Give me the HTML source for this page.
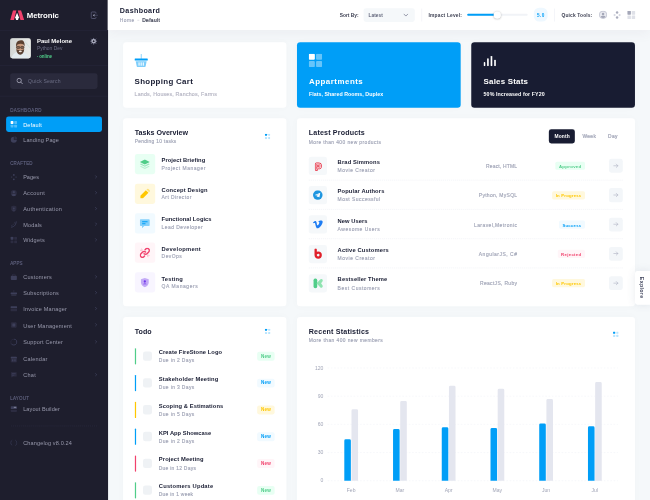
<!DOCTYPE html><html><head><meta charset="utf-8"><title>Metronic</title><style>
*{box-sizing:border-box;margin:0;padding:0}
html,body{width:650px;height:500px;overflow:hidden;background:#f5f8fa}
body{font-family:"Liberation Sans",sans-serif;color:#181c32}
#root{position:absolute;left:0;top:0;width:1600px;height:1231px;transform:scale(0.40625);transform-origin:0 0;background:#f5f8fa;overflow:hidden;filter:opacity(1)}
.abs{position:absolute}
.t{position:absolute;white-space:nowrap;line-height:1;transform:translateY(-50%);margin-top:1px}
.b{font-weight:700}
.aside{position:absolute;left:0;top:0;width:265.500px;height:1231px;background:#1e1e2d}
.sep{position:absolute;left:0;width:265px;height:1px;background:#2b2b40}
.mi{position:absolute;left:15px;width:236px;height:38px;border-radius:6px}
.mi .t{left:42px;top:19.900px;font-size:13.6px;color:#9899ac;font-weight:400}
.mi.act{background:#009ef7}
.mi.act .t{color:#fff}
.mi .ic{position:absolute;left:10px;top:10px;width:18px;height:18px}
.mi .ar{position:absolute;right:10px;top:14px;width:9px;height:9px}
.sec{position:absolute;left:25px;font-size:11px;color:#626482;letter-spacing:1px;font-weight:400;-webkit-text-stroke:.3px currentColor}
.header{position:absolute;left:265px;top:0;width:1335px;height:74px;background:#fff;box-shadow:0 10px 30px 0 rgba(82,63,105,.05)}
.card{position:absolute;background:#fff;border-radius:8px;box-shadow:0 0 20px 0 rgba(76,87,125,.02)}
.mut{color:#a1a5b7}
.md{font-weight:400;-webkit-text-stroke:.35px currentColor}
.sym{position:absolute;border-radius:6px}
.badge{position:absolute;height:20px;border-radius:4px;font-size:10.5px;font-weight:700}
.badge .t{top:10px}
.dash{position:absolute;height:0;border-top:1.600px dashed #e6e9f0}
</style></head><body><div id="root"><div class="aside">
<svg class="abs" style="left:25.400px;top:25.200px;width:34.400px;height:24px" viewBox="0 0 34.400 24"><path d="M7.100 0h8.400L9.400 24H0z" fill="#f1416c"></path><path d="M18.500 0h8.300l7.600 24h-9.100z" fill="#f1416c"></path><path d="M17 6.500l4.500 11L19.200 24h-4.400l-2.300-6.500z" fill="#fff"></path></svg>
<span class="t b" style="left: 65.7px; top: 35.8px; font-size: 19.2px; color: rgb(255, 255, 255); letter-spacing: -0.09px;">Metronic</span>
<svg class="abs" style="left:222px;top:26.700px;width:21px;height:21px" viewBox="0 0 21 21"><path d="M14.300 6.500V4.800a2.300 2.300 0 0 0-2.300-2.300H4.800a2.300 2.300 0 0 0-2.300 2.300v11.400a2.300 2.300 0 0 0 2.300 2.300H12a2.300 2.300 0 0 0 2.300-2.300v-1.700" fill="none" stroke="#5b5d79" stroke-width="2"></path><path d="M6.500 10.500l4.200-3.300v6.600z" fill="#b9bbcf"></path><path d="M10 10.500h9" stroke="#4d4f6b" stroke-width="1.800"></path></svg>
<div class="sep" style="top:74px"></div>
<div class="abs" style="left:25px;top:93.500px;width:50.500px;height:50px;border-radius:6px;overflow:hidden;background:#d9dbd9"><svg viewBox="0 0 50 50" width="50.500" height="50" preserveAspectRatio="none"><defs><linearGradient id="avbg" x1="0" x2="1" y1="0" y2="0"><stop offset="0" stop-color="#d3d6d4"></stop><stop offset="1" stop-color="#e9eae8"></stop></linearGradient></defs><rect width="50" height="50" fill="url(#avbg)"></rect><path d="M36 8L50 26" stroke="#b9d6d2" stroke-width="1.200"></path><path d="M3 50C5 39 13 36 18 33.500L24.600 43 31 33.500c5 2.500 13 5.500 16 16.500z" fill="#e2eaee"></path><ellipse cx="24.600" cy="24" rx="9.600" ry="12" fill="#c8987b"></ellipse><path d="M14.500 22C13 11 18 5.500 26 5c5-1 10 3 9.500 16-1.500-5-4-7.500-10-7.500s-9.500 2.500-11 8.500z" fill="#5b4030"></path><path d="M15 26c1.500 2.500 3.500 3.500 9.600 3.500s8.100-1 9.600-3.500c-.2 9-4 14.500-9.600 14.500S15.200 35 15 26z" fill="#5a4234"></path><ellipse cx="24.800" cy="32.500" rx="3.800" ry="1.900" fill="#efe3dc"></ellipse><rect x="15.500" y="20.500" width="8" height="4.600" rx="1.500" fill="#8a6a58" stroke="#2a211d" stroke-width="1.300"></rect><rect x="25.700" y="20.500" width="8" height="4.600" rx="1.500" fill="#8a6a58" stroke="#2a211d" stroke-width="1.300"></rect></svg></div>
<span class="t b" style="left: 90.8px; top: 101.2px; font-size: 14.6px; color: rgb(255, 255, 255); letter-spacing: 0.14px;">Paul Melone</span>
<span class="t " style="left: 90.8px; top: 118.7px; font-size: 12px; color: rgb(109, 111, 134); letter-spacing: 0.13px;">Python Dev</span>
<span class="t " style="left:90.8px;top:138.6px;font-size:5px;color:#50cd89;">●</span>
<span class="t b" style="left: 96.5px; top: 138.6px; font-size: 11px; color: rgb(80, 205, 137); letter-spacing: -0.16px;">online</span>
<svg class="abs" style="left:221.500px;top:93.300px;width:17px;height:17px" viewBox="0 0 18 18"><circle cx="9" cy="9" r="4.300" fill="none" stroke="#bfc0d1" stroke-width="3.400"></circle><g stroke="#7d7f98" stroke-width="2.300" stroke-linecap="round"><path d="M9 1v2M9 15v2M1 9h2M15 9h2M3.300 3.300l1.500 1.500M13.200 13.200l1.500 1.500M3.300 14.700l1.500-1.500M13.200 4.800l1.500-1.500"></path></g></svg>
<div class="sep" style="top:160px"></div>
<div class="abs" style="left:25px;top:180px;width:215px;height:39px;border-radius:6px;background:#2a2a3c"></div>
<svg class="abs" style="left:39.500px;top:191px;width:17px;height:17px" viewBox="0 0 15 15"><circle cx="6.3" cy="6.3" r="4.7" fill="none" stroke="#b9bacb" stroke-width="1.6"></circle><path d="M10 10l3.4 3.4" stroke="#b9bacb" stroke-width="1.6" stroke-linecap="round"></path></svg>
<span class="t " style="left: 69px; top: 199.5px; font-size: 12.4px; color: rgb(109, 111, 134); letter-spacing: 0.49px;">Quick Search</span>
<div class="sep" style="top:235.500px"></div>
<span class="t sec" style="top: 270.8px; left: 25px; letter-spacing: 0.92px;">DASHBOARD</span>
<div class="mi act" style="top:287.3px"><svg class="ic" viewBox="0 0 18 18"><rect x="1" y="1" width="7" height="7" rx="1.5" fill="#fff"></rect><rect x="10" y="1" width="7" height="7" rx="1.5" fill="#fff" opacity=".32"></rect><rect x="1" y="10" width="7" height="7" rx="1.5" fill="#fff" opacity=".32"></rect><rect x="10" y="10" width="7" height="7" rx="1.5" fill="#fff" opacity=".32"></rect></svg><span class="t" style="letter-spacing: 0.49px;">Default</span></div>
<div class="mi" style="top:325.4px"><svg class="ic" viewBox="0 0 18 18"><path d="M9 1.5a7.5 7.5 0 1 0 7.5 7.5H9z" fill="#3d3f5a"></path><path d="M10.5 0.5a7 7 0 0 1 7 7h-7z" fill="#3d3f5a" opacity=".5"></path></svg><span class="t" style="letter-spacing: 0.37px;">Landing Page</span></div>
<span class="t sec" style="top: 401.5px; left: 25px; letter-spacing: 0.53px;">CRAFTED</span>
<div class="mi" style="top:416.5px"><svg class="ic" viewBox="0 0 18 18"><circle cx="9" cy="3.5" r="2.2" fill="#3d3f5a"></circle><circle cx="9" cy="14.5" r="2.2" fill="#3d3f5a"></circle><circle cx="3.5" cy="9" r="2" fill="#3d3f5a" opacity=".5"></circle><circle cx="14.5" cy="9" r="2" fill="#3d3f5a" opacity=".5"></circle></svg><span class="t" style="letter-spacing: 0.08px;">Pages</span><svg class="ar" viewBox="0 0 9 9"><path d="M3 1.500l3 3-3 3" fill="none" stroke="#494b69" stroke-width="1.500" stroke-linecap="round" stroke-linejoin="round"></path></svg></div>
<div class="mi" style="top:455.9px"><svg class="ic" viewBox="0 0 18 18"><circle cx="9" cy="9" r="7.5" fill="#3d3f5a" opacity=".45"></circle><circle cx="9" cy="7" r="2.8" fill="#3d3f5a"></circle><path d="M3.5 14c1-3 10-3 11 0a7.4 7.4 0 0 1-11 0z" fill="#3d3f5a"></path></svg><span class="t" style="letter-spacing: 0.7px;">Account</span><svg class="ar" viewBox="0 0 9 9"><path d="M3 1.500l3 3-3 3" fill="none" stroke="#494b69" stroke-width="1.500" stroke-linecap="round" stroke-linejoin="round"></path></svg></div>
<div class="mi" style="top:495.3px"><svg class="ic" viewBox="0 0 18 18"><path d="M9 1l6.5 2.5v5.5c0 4-3 7-6.5 8-3.500-1-6.500-4-6.500-8V3.500z" fill="#3d3f5a" opacity=".45"></path><circle cx="9" cy="8" r="2.300" fill="#3d3f5a"></circle><path d="M5.500 13c.5-2.500 6.500-2.500 7 0" fill="#3d3f5a"></path></svg><span class="t" style="letter-spacing: 0.69px;">Authentication</span><svg class="ar" viewBox="0 0 9 9"><path d="M3 1.500l3 3-3 3" fill="none" stroke="#494b69" stroke-width="1.500" stroke-linecap="round" stroke-linejoin="round"></path></svg></div>
<div class="mi" style="top:533.4px"><svg class="ic" viewBox="0 0 18 18"><path d="M2 16c6 0 12-3 13-14" fill="none" stroke="#3d3f5a" stroke-width="2.2"></path><path d="M2 12c4 0 8-2 9-9" fill="none" stroke="#3d3f5a" stroke-width="2" opacity=".5"></path></svg><span class="t" style="letter-spacing: 0.45px;">Modals</span><svg class="ar" viewBox="0 0 9 9"><path d="M3 1.500l3 3-3 3" fill="none" stroke="#494b69" stroke-width="1.500" stroke-linecap="round" stroke-linejoin="round"></path></svg></div>
<div class="mi" style="top:571.6px"><svg class="ic" viewBox="0 0 18 18"><rect x="1" y="1" width="7" height="7" rx="1.5" fill="#3d3f5a"></rect><rect x="10" y="1" width="7" height="7" rx="1.5" fill="#3d3f5a" opacity=".45"></rect><rect x="1" y="10" width="7" height="7" rx="1.5" fill="#3d3f5a" opacity=".45"></rect><rect x="10" y="10" width="7" height="7" rx="1.5" fill="#3d3f5a" opacity=".45"></rect></svg><span class="t" style="letter-spacing: 0.7px;">Widgets</span><svg class="ar" viewBox="0 0 9 9"><path d="M3 1.500l3 3-3 3" fill="none" stroke="#494b69" stroke-width="1.500" stroke-linecap="round" stroke-linejoin="round"></path></svg></div>
<span class="t sec" style="top: 647.4px; left: 25px; letter-spacing: 0.4px;">APPS</span>
<div class="mi" style="top:662.6px"><svg class="ic" viewBox="0 0 18 18"><rect x="1.500" y="6" width="15" height="10.500" rx="2" fill="#3d3f5a"></rect><path d="M5.500 6V3.500a1.500 1.500 0 0 1 1.500-1.500h4a1.500 1.500 0 0 1 1.500 1.500V6" fill="none" stroke="#3d3f5a" stroke-width="1.600" opacity=".6"></path></svg><span class="t" style="letter-spacing: 0.61px;">Customers</span><svg class="ar" viewBox="0 0 9 9"><path d="M3 1.500l3 3-3 3" fill="none" stroke="#494b69" stroke-width="1.500" stroke-linecap="round" stroke-linejoin="round"></path></svg></div>
<div class="mi" style="top:702.0px"><svg class="ic" viewBox="0 0 18 18"><rect x="1" y="8" width="16" height="4" rx="1" fill="#3d3f5a"></rect><rect x="2.500" y="12" width="13" height="4.500" rx="1" fill="#3d3f5a" opacity=".5"></rect><path d="M9 2v6" stroke="#3d3f5a" stroke-width="1.600" opacity=".6"></path></svg><span class="t" style="letter-spacing: 0.52px;">Subscriptions</span><svg class="ar" viewBox="0 0 9 9"><path d="M3 1.500l3 3-3 3" fill="none" stroke="#494b69" stroke-width="1.500" stroke-linecap="round" stroke-linejoin="round"></path></svg></div>
<div class="mi" style="top:741.4px"><svg class="ic" viewBox="0 0 18 18"><rect x="1" y="3" width="16" height="5" rx="1" fill="#3d3f5a"></rect><rect x="1" y="9.500" width="16" height="5.500" rx="1" fill="#3d3f5a" opacity=".45"></rect></svg><span class="t" style="letter-spacing: 0.5px;">Invoice Manager</span><svg class="ar" viewBox="0 0 9 9"><path d="M3 1.500l3 3-3 3" fill="none" stroke="#494b69" stroke-width="1.500" stroke-linecap="round" stroke-linejoin="round"></path></svg></div>
<div class="mi" style="top:780.8px"><svg class="ic" viewBox="0 0 18 18"><rect x="2" y="2" width="14" height="14" rx="2.500" fill="#3d3f5a" opacity=".45"></rect><rect x="5.500" y="5.500" width="7" height="7" rx="1" fill="#3d3f5a"></rect></svg><span class="t" style="letter-spacing: 0.57px;">User Management</span><svg class="ar" viewBox="0 0 9 9"><path d="M3 1.500l3 3-3 3" fill="none" stroke="#494b69" stroke-width="1.500" stroke-linecap="round" stroke-linejoin="round"></path></svg></div>
<div class="mi" style="top:822.6px"><svg class="ic" viewBox="0 0 18 18"><path d="M9 1.500A7.500 7.500 0 1 1 2.500 12.800" fill="none" stroke="#3d3f5a" stroke-width="2.400"></path><path d="M9 1.500A7.500 7.500 0 0 0 2.500 12.800" fill="none" stroke="#3d3f5a" stroke-width="2" opacity=".4"></path></svg><span class="t" style="letter-spacing: 0.43px;">Support Center</span><svg class="ar" viewBox="0 0 9 9"><path d="M3 1.500l3 3-3 3" fill="none" stroke="#494b69" stroke-width="1.500" stroke-linecap="round" stroke-linejoin="round"></path></svg></div>
<div class="mi" style="top:864.5px"><svg class="ic" viewBox="0 0 18 18"><rect x="1.500" y="3" width="15" height="14" rx="2" fill="#3d3f5a" opacity=".45"></rect><rect x="1.500" y="3" width="15" height="4" rx="1.500" fill="#3d3f5a"></rect><rect x="4.500" y="9.500" width="3.500" height="5" fill="#3d3f5a"></rect><rect x="10" y="9.500" width="3.500" height="5" fill="#3d3f5a"></rect></svg><span class="t" style="letter-spacing: 0.62px;">Calendar</span></div>
<div class="mi" style="top:903.9px"><svg class="ic" viewBox="0 0 18 18"><path d="M2 2.500h14v10H7l-3.500 3.500v-3.500H2z" fill="#3d3f5a" opacity=".45"></path><rect x="4.500" y="5" width="9" height="1.800" fill="#3d3f5a"></rect><rect x="4.500" y="8.500" width="6" height="1.800" fill="#3d3f5a"></rect></svg><span class="t" style="letter-spacing: 0.8px;">Chat</span><svg class="ar" viewBox="0 0 9 9"><path d="M3 1.500l3 3-3 3" fill="none" stroke="#494b69" stroke-width="1.500" stroke-linecap="round" stroke-linejoin="round"></path></svg></div>
<span class="t sec" style="top: 978.5px; left: 25px; letter-spacing: 0.65px;">LAYOUT</span>
<div class="mi" style="top:987.6px"><svg class="ic" viewBox="0 0 18 18"><rect x="1.500" y="2" width="15" height="7" rx="1.500" fill="#3d3f5a"></rect><rect x="9" y="3.500" width="6" height="2" fill="#9899ac"></rect><rect x="1.500" y="10.500" width="15" height="5.500" rx="1.500" fill="#3d3f5a" opacity=".45"></rect></svg><span class="t" style="letter-spacing: 0.27px;">Layout Builder</span></div>
<div class="abs" style="left:27px;width:212px;top:1047.6px;height:0;border-top:1px dashed #34354d"></div>
<div class="mi" style="top:1071.3px"><svg class="ic" viewBox="0 0 18 18"><path d="M5 2.500C2.500 4.500 1.500 6.500 1.500 9s1 4.500 3.500 6.500" fill="none" stroke="#3d3f5a" stroke-width="1.800"></path><path d="M13 2.500c2.500 2 3.500 4 3.500 6.500s-1 4.500-3.500 6.500" fill="none" stroke="#3d3f5a" stroke-width="1.800"></path></svg><span class="t" style="letter-spacing: 0.36px;">Changelog v8.0.24</span></div>
</div>
<div class="header"></div>
<span class="t b" style="left: 295px; top: 26px; font-size: 17.5px; letter-spacing: 0.89px;">Dashboard</span>
<span class="t mut md" style="left: 295px; top: 48px; font-size: 12px; letter-spacing: 1.12px;">Home</span>
<div class="abs" style="left:337.5px;top:48.500px;width:5px;height:1.500px;background:#b5b5c3"></div>
<span class="t " style="left: 350px; top: 48px; font-size: 12px; color: rgb(63, 66, 84); -webkit-text-stroke: 0.5px currentcolor; letter-spacing: 0.89px;">Default</span>
<span class="t b" style="left: 836.4px; top: 36.5px; font-size: 12px; color: rgb(63, 66, 84); letter-spacing: -0.05px;">Sort By:</span>
<div class="abs" style="left:894.8px;top:19.500px;width:126px;height:34px;border-radius:6px;background:#f5f8fa"></div>
<span class="t b" style="left: 906.8px; top: 36.5px; font-size: 11.5px; color: rgb(94, 98, 120); letter-spacing: 0.38px;">Latest</span>
<svg class="abs" style="left:992.9px;top:30.5px;width:12px;height:12px" viewBox="0 0 12 12"><path d="M1.200 3.700l4.800 4.800 4.800-4.800" fill="none" stroke="#6a6e84" stroke-width="1.700" stroke-linecap="round" stroke-linejoin="round"></path></svg>
<div class="abs" style="left:1037.8px;top:21px;width:1px;height:32px;background:#e4e6ef"></div>
<span class="t b" style="left: 1054.8px; top: 36.5px; font-size: 12px; color: rgb(63, 66, 84); letter-spacing: 0.46px;">Impact Level:</span>
<div class="abs" style="left:1149.8px;top:34.0px;width:149.7px;height:5px;border-radius:3px;background:#f1f3f7"></div>
<div class="abs" style="left:1149.8px;top:34.0px;width:73.8px;height:5px;border-radius:3px;background:#009ef7"></div>
<div class="abs" style="left:1214.6px;top:27.5px;width:18px;height:18px;border-radius:9px;background:#fff;box-shadow:0 1px 5px rgba(0,0,0,.3)"></div>
<div class="abs" style="left:1314.2px;top:19.3px;width:33.500px;height:33.500px;border-radius:13px;background:#eef8ff"></div>
<span class="t b" style="left: 1322.1px; top: 36.5px; font-size: 11.5px; color: rgb(0, 158, 247); letter-spacing: 0.89px;">5.0</span>
<div class="abs" style="left:1364.9px;top:21px;width:1px;height:32px;background:#e4e6ef"></div>
<span class="t b" style="left: 1382.2px; top: 36.5px; font-size: 12px; color: rgb(63, 66, 84); letter-spacing: 0.35px;">Quick Tools:</span>
<svg class="abs" style="left:1474.1px;top:26.0px;width:21px;height:21px" viewBox="0 0 21 21"><circle cx="10.500" cy="10.500" r="10" fill="#c9cbd7"></circle><circle cx="10.500" cy="10.500" r="7.800" fill="#e9eaf0"></circle><circle cx="10.500" cy="8.600" r="3.100" fill="#a4a7b8"></circle><path d="M4.600 15.600c1.200-3.600 10.600-3.600 11.800 0a7.800 7.800 0 0 1-11.800 0z" fill="#a4a7b8"></path></svg>
<svg class="abs" style="left:1509.0px;top:26.5px;width:20px;height:20px" viewBox="0 0 20 20"><circle cx="10" cy="3.800" r="3" fill="#a9acbc"></circle><circle cx="10" cy="16.200" r="3" fill="#a9acbc"></circle><circle cx="3.800" cy="10" r="2.700" fill="#d6d8e1"></circle><circle cx="16.200" cy="10" r="2.700" fill="#d6d8e1"></circle></svg>
<svg class="abs" style="left:1543.5px;top:26.5px;width:20px;height:20px" viewBox="0 0 20 20"><rect x="0" y="0" width="9" height="9" rx="1.500" fill="#a4a7b8"></rect><rect x="11" y="0" width="9" height="9" rx="1.500" fill="#dfe1e8"></rect><rect x="0" y="11" width="9" height="9" rx="1.500" fill="#dfe1e8"></rect><rect x="11" y="11" width="9" height="9" rx="1.500" fill="#dfe1e8"></rect></svg>
<div class="card" style="left:303.3px;top:104.0px;width:402.0px;height:161.0px"></div>
<div class="card" style="left:731.0px;top:104.0px;width:402.5px;height:161.0px;background:#009ef7"></div>
<div class="card" style="left:1160.0px;top:104.0px;width:402.5px;height:161.0px;background:#181c32"></div>
<svg class="abs" style="left:331.3px;top:132.9px;width:33px;height:32px" viewBox="0 0 33 32"><rect x="15.500" y="0" width="2.200" height="12" fill="#7fcefb"></rect><rect x="0" y="11" width="33" height="5" rx="1.500" fill="#009ef7"></rect><path d="M3 18h27l-2.500 12a2.500 2.500 0 0 1-2.500 2H8a2.500 2.500 0 0 1-2.500-2z" fill="#7fcefb"></path><rect x="10" y="20" width="2.600" height="9" rx="1.300" fill="#fff"></rect><rect x="15.200" y="20" width="2.600" height="9" rx="1.300" fill="#fff"></rect><rect x="20.400" y="20" width="2.600" height="9" rx="1.300" fill="#fff"></rect></svg>
<span class="t b" style="left: 331.3px; top: 198.9px; font-size: 19.5px; letter-spacing: 0.75px;">Shopping Cart</span>
<span class="t md" style="left: 331.3px; top: 230.9px; font-size: 13px; color: rgb(181, 181, 195); letter-spacing: 0.47px;">Lands, Houses, Ranchos, Farms</span>
<svg class="abs" style="left:760.4px;top:132.2px;width:33px;height:33px" viewBox="0 0 33 33"><rect x="0" y="0" width="15" height="15" rx="2.500" fill="#fff"></rect><rect x="18" y="0" width="15" height="15" rx="2.500" fill="#fff" opacity=".4"></rect><rect x="0" y="18" width="15" height="15" rx="2.500" fill="#fff" opacity=".4"></rect><rect x="18" y="18" width="15" height="15" rx="2.500" fill="#fff" opacity=".4"></rect></svg>
<span class="t b" style="left: 760.4px; top: 198.9px; font-size: 19.5px; color: rgb(255, 255, 255); letter-spacing: 1.23px;">Appartments</span>
<span class="t b" style="left: 760.4px; top: 231.9px; font-size: 13px; color: rgb(255, 255, 255); letter-spacing: 0.11px;">Flats, Shared Rooms, Duplex</span>
<svg class="abs" style="left:1190.4px;top:136.1px;width:31px;height:27px" viewBox="0 0 32 32" preserveAspectRatio="none"><rect x="0.500" y="20" width="4.200" height="12" rx="2" fill="#fff"></rect><rect x="9.300" y="9" width="4.200" height="23" rx="2" fill="#fff"></rect><rect x="18.300" y="2" width="4.200" height="30" rx="2" fill="#fff"></rect><rect x="27.300" y="13" width="4.200" height="19" rx="2" fill="#fff"></rect></svg>
<span class="t b" style="left: 1190.4px; top: 200.4px; font-size: 19.5px; color: rgb(255, 255, 255); letter-spacing: 0.5px;">Sales Stats</span>
<span class="t b" style="left: 1190.4px; top: 231.9px; font-size: 13px; color: rgb(255, 255, 255); letter-spacing: 0.21px;">50% Increased for FY20</span>
<div class="card" style="left:303.3px;top:291.2px;width:402.0px;height:463.0px"></div>
<div class="card" style="left:731.0px;top:291.2px;width:832.3px;height:463.0px"></div>
<span class="t b" style="left: 331.8px; top: 325.9px; font-size: 17.5px; letter-spacing: 0px;">Tasks Overview</span>
<span class="t mut md" style="left: 331.8px; top: 346.8px; font-size: 12px; letter-spacing: 0.67px;">Pending 10 tasks</span>
<svg class="abs" style="left:651.7px;top:329.0px;width:13.500px;height:13.500px" viewBox="0 0 15 15"><rect x="0" y="0" width="6" height="6" rx="1.500" fill="#009ef7"></rect><rect x="9" y="0" width="6" height="6" rx="1.500" fill="#009ef7" opacity=".27"></rect><rect x="0" y="9" width="6" height="6" rx="1.500" fill="#009ef7" opacity=".27"></rect><rect x="9" y="9" width="6" height="6" rx="1.500" fill="#009ef7" opacity=".27"></rect></svg>
<div class="sym" style="left:331.8px;top:379.1px;width:50px;height:50px;background:#e8fff3"><svg style="position:absolute;left:12.500px;top:12.500px" width="25" height="25" viewBox="2.200 2.200 19.600 19.600"><path d="M12 2.500l9.500 4.800-9.500 4.800-9.500-4.800z" fill="#50cd89"></path><path d="M4.700 10.600l7.300 3.700 7.300-3.700 2.200 1.100-9.500 4.800-9.500-4.800z" fill="#50cd89" opacity=".5"></path><path d="M4.700 15l7.300 3.700 7.300-3.700 2.200 1.100-9.500 4.800-9.500-4.800z" fill="#50cd89" opacity=".32"></path></svg></div>
<span class="t b" style="left: 397.8px; top: 393.7px; font-size: 14.2px; letter-spacing: 0.11px;">Project Briefing</span>
<span class="t mut md" style="left: 397.8px; top: 412.5px; font-size: 12.2px; letter-spacing: 1.3px;">Project Manager</span>
<div class="sym" style="left:331.8px;top:451.9px;width:50px;height:50px;background:#fff8dd"><svg style="position:absolute;left:12.500px;top:12.500px" width="25" height="25" viewBox="2.200 2.200 19.600 19.600"><path d="M3.500 16L14 5.500l5 5L8.500 21H3.500z" fill="#ffc700"></path><path d="M15.200 4.300l1.300-1.300a1.800 1.800 0 0 1 2.500 0l2.500 2.500a1.800 1.800 0 0 1 0 2.500l-1.300 1.300z" fill="#ffc700" opacity=".45"></path></svg></div>
<span class="t b" style="left: 397.8px; top: 466.5px; font-size: 14.2px; letter-spacing: 0.39px;">Concept Design</span>
<span class="t mut md" style="left: 397.8px; top: 485.2px; font-size: 12.2px; letter-spacing: 1.06px;">Art Director</span>
<div class="sym" style="left:331.8px;top:524.6px;width:50px;height:50px;background:#f1faff"><svg style="position:absolute;left:12.500px;top:12.500px" width="25" height="25" viewBox="2.200 2.200 19.600 19.600"><path d="M4 4.500h16a1.500 1.500 0 0 1 1.500 1.500v10a1.500 1.500 0 0 1-1.500 1.500h-9l-4.500 4v-4H4a1.500 1.500 0 0 1-1.500-1.500V6a1.500 1.500 0 0 1 1.500-1.500z" fill="#009ef7" opacity=".45"></path><rect x="6.500" y="8" width="11" height="2" rx="1" fill="#009ef7"></rect><rect x="6.500" y="12" width="7" height="2" rx="1" fill="#009ef7"></rect></svg></div>
<span class="t b" style="left: 397.8px; top: 539.2px; font-size: 14.2px; letter-spacing: 0.1px;">Functional Logics</span>
<span class="t mut md" style="left: 397.8px; top: 558px; font-size: 12.2px; letter-spacing: 1.14px;">Lead Developer</span>
<div class="sym" style="left:331.8px;top:597.4px;width:50px;height:50px;background:#fff5f8"><svg style="position:absolute;left:12.500px;top:12.500px" width="25" height="25" viewBox="2.200 2.200 19.600 19.600"><path d="M10.500 13.500a4 4 0 0 0 5.700 0l3.300-3.300a4 4 0 0 0-5.700-5.700l-1.300 1.300" fill="none" stroke="#f1416c" stroke-width="2.700" stroke-linecap="round"></path><path d="M13.500 10.500a4 4 0 0 0-5.700 0l-3.300 3.300a4 4 0 0 0 5.700 5.700l1.300-1.300" fill="none" stroke="#f1416c" stroke-width="2.700" stroke-linecap="round"></path><path d="M6 4.500l1 2.500M3.500 7l2.500 1M18 19.500l-1-2.500M20.500 17l-2.500-1" stroke="#f1416c" stroke-width="1.500" opacity=".4" stroke-linecap="round"></path></svg></div>
<span class="t b" style="left: 397.8px; top: 612px; font-size: 14.2px; letter-spacing: 0.7px;">Development</span>
<span class="t mut md" style="left: 397.8px; top: 630.8px; font-size: 12.2px; letter-spacing: 1.12px;">DevOps</span>
<div class="sym" style="left:331.8px;top:670.1px;width:50px;height:50px;background:#f8f5ff"><svg style="position:absolute;left:12.500px;top:12.500px" width="25" height="25" viewBox="2.200 2.200 19.600 19.600"><path d="M12 3l7.500 2.500v6.500c0 4.500-3.500 7.500-7.500 9-4-1.500-7.500-4.500-7.500-9V5.500z" fill="#7239ea" opacity=".4"></path><circle cx="12" cy="10" r="2.200" fill="#7239ea"></circle><path d="M8.500 15.500c.5-2.500 6.500-2.500 7 0z" fill="#7239ea"></path></svg></div>
<span class="t b" style="left: 397.8px; top: 684.7px; font-size: 14.2px; letter-spacing: 0.43px;">Testing</span>
<span class="t mut md" style="left: 397.8px; top: 703.5px; font-size: 12.2px; letter-spacing: 1.44px;">QA Managers</span>
<span class="t b" style="left: 760.1px; top: 325.9px; font-size: 17.5px; letter-spacing: 0.39px;">Latest Products</span>
<span class="t mut md" style="left: 760.1px; top: 348.6px; font-size: 12px; letter-spacing: 1.02px;">More than 400 new products</span>
<div class="abs" style="left:1350.9px;top:318.0px;width:63.800px;height:34.500px;border-radius:6px;background:#181c32"></div>
<span class="t b" style="left: 1364.9px; top: 335.3px; font-size: 12px; color: rgb(255, 255, 255); letter-spacing: 0.37px;">Month</span>
<span class="t " style="left: 1433.6px; top: 335.3px; font-size: 12px; color: rgb(161, 165, 183); -webkit-text-stroke: 0.5px currentcolor; letter-spacing: 0.86px;">Week</span>
<span class="t " style="left: 1496.6px; top: 335.3px; font-size: 12px; color: rgb(161, 165, 183); -webkit-text-stroke: 0.5px currentcolor; letter-spacing: 0.91px;">Day</span>
<div class="sym" style="left:760.1px;top:386.0px;width:45px;height:45px;background:#f5f8fa"><svg style="position:absolute;left:10.2px;top:10.2px" width="24.5" height="24.5" viewBox="0 0 24 24"><path d="M8.800 20.500V7.500h4.700a4.600 4.600 0 0 1 0 9.200H8.800" fill="none" stroke="#e52a3f" stroke-width="7.400" stroke-linecap="round" stroke-linejoin="round"></path><path d="M8.800 20.500V7.500h4.700a4.600 4.600 0 0 1 0 9.200H8.800" fill="none" stroke="#fff" stroke-width="3.900" stroke-linecap="round" stroke-linejoin="round"></path><path d="M8.800 20.500V7.500h4.700a4.600 4.600 0 0 1 0 9.200H8.800" fill="none" stroke="#e52a3f" stroke-width="1.300" stroke-linecap="round" stroke-linejoin="round"></path></svg></div>
<span class="t b" style="left: 831px; top: 397.6px; font-size: 14.2px; letter-spacing: 0.37px;">Brad Simmons</span>
<span class="t mut md" style="left: 831px; top: 418.7px; font-size: 12.2px; letter-spacing: 1.28px;">Movie Creator</span>
<span class="t mut md" style="left: 1196.3px; top: 408.5px; font-size: 12.2px; letter-spacing: 0.48px;">React, HTML</span>
<div class="badge" style="left:1367.2px;top:398.3px;width:73.1px;background:#e8fff3;color:#50cd89"><span class="t" style="left: 8.6px; letter-spacing: 0.82px;">Approved</span></div>
<div class="abs" style="left:1499.1px;top:391.2px;width:34.200px;height:34.200px;border-radius:6px;background:#f3f6f9"><svg style="position:absolute;left:9.700px;top:9.700px" width="14" height="14" viewBox="0 0 14 14"><path d="M2 7h10M8 3l4 4-4 4" fill="none" stroke="#a9adbe" stroke-width="1.350" stroke-linecap="round" stroke-linejoin="round"></path></svg></div>
<div class="dash" style="left:760.1px;width:772.9px;top:442.5px"></div>
<div class="sym" style="left:760.1px;top:458.2px;width:45px;height:45px;background:#f5f8fa"><svg style="position:absolute;left:10.2px;top:10.2px" width="24.5" height="24.5" viewBox="0 0 24 24"><circle cx="12" cy="12" r="11.500" fill="#1e96e0"></circle><path d="M5 12l13-5.500-2.200 11.500-3.800-2.900-2.100 2-.3-3.300 5.800-5.200-7.200 4.500z" fill="#fff"></path></svg></div>
<span class="t b" style="left: 831px; top: 469.8px; font-size: 14.2px; letter-spacing: 0.32px;">Popular Authors</span>
<span class="t mut md" style="left: 831px; top: 490.9px; font-size: 12.2px; letter-spacing: 1.15px;">Most Successful</span>
<span class="t mut md" style="left: 1178.6px; top: 480.7px; font-size: 12.2px; letter-spacing: 0.73px;">Python, MySQL</span>
<div class="badge" style="left:1359.3px;top:470.5px;width:81.0px;background:#fff8dd;color:#ffc700"><span class="t" style="left: 8.6px; letter-spacing: 0.5px;">In Progress</span></div>
<div class="abs" style="left:1499.1px;top:463.4px;width:34.200px;height:34.200px;border-radius:6px;background:#f3f6f9"><svg style="position:absolute;left:9.700px;top:9.700px" width="14" height="14" viewBox="0 0 14 14"><path d="M2 7h10M8 3l4 4-4 4" fill="none" stroke="#a9adbe" stroke-width="1.350" stroke-linecap="round" stroke-linejoin="round"></path></svg></div>
<div class="dash" style="left:760.1px;width:772.9px;top:514.7px"></div>
<div class="sym" style="left:760.1px;top:530.4px;width:45px;height:45px;background:#f5f8fa"><svg style="position:absolute;left:9.0px;top:9.0px" width="27" height="27" viewBox="0 0 24 24"><path d="M1 8c2.800-2.400 5-4 6.800-3 2 1.300 1.400 6.500 2.800 8.700 1.100 1.600 5-4 4.500-6.200-.3-1.300-1.600-1.100-2.700-.5C14 2.500 22.500 2 22.500 6.500c0 4.500-7 14-11.500 14-4 0-4-10-5.600-11.700-.7-.6-1.500 0-2.300.6z" fill="#1e7cf2"></path></svg></div>
<span class="t b" style="left: 831px; top: 542px; font-size: 14.2px; letter-spacing: 0.15px;">New Users</span>
<span class="t mut md" style="left: 831px; top: 563.1px; font-size: 12.2px; letter-spacing: 1.27px;">Awesome Users</span>
<span class="t mut md" style="left: 1166.8px; top: 552.9px; font-size: 12.2px; letter-spacing: 1.05px;">Laravel,Metronic</span>
<div class="badge" style="left:1375.8px;top:542.7px;width:64.5px;background:#f1faff;color:#009ef7"><span class="t" style="left: 8.6px; letter-spacing: 0.6px;">Success</span></div>
<div class="abs" style="left:1499.1px;top:535.6px;width:34.200px;height:34.200px;border-radius:6px;background:#f3f6f9"><svg style="position:absolute;left:9.700px;top:9.700px" width="14" height="14" viewBox="0 0 14 14"><path d="M2 7h10M8 3l4 4-4 4" fill="none" stroke="#a9adbe" stroke-width="1.350" stroke-linecap="round" stroke-linejoin="round"></path></svg></div>
<div class="dash" style="left:760.1px;width:772.9px;top:586.9px"></div>
<div class="sym" style="left:760.1px;top:602.6px;width:45px;height:45px;background:#f5f8fa"><svg style="position:absolute;left:8.8px;top:8.8px" width="27.5" height="27.5" viewBox="0 0 24 24"><path d="M7 3v11.800a5.400 5.400 0 1 0 5.400-5.400c-1.700 0-2.800.6-3.800 1.600" fill="none" stroke="#e0202a" stroke-width="5" stroke-linecap="round"></path></svg></div>
<span class="t b" style="left: 831px; top: 614.2px; font-size: 14.2px; letter-spacing: 0.35px;">Active Customers</span>
<span class="t mut md" style="left: 831px; top: 635.3px; font-size: 12.2px; letter-spacing: 1.28px;">Movie Creator</span>
<span class="t mut md" style="left: 1178.6px; top: 625.1px; font-size: 12.2px; letter-spacing: 1.27px;">AngularJS, C#</span>
<div class="badge" style="left:1372.6px;top:614.9px;width:67.7px;background:#fff5f8;color:#f1416c"><span class="t" style="left: 8.6px; letter-spacing: 0.79px;">Rejected</span></div>
<div class="abs" style="left:1499.1px;top:607.8px;width:34.200px;height:34.200px;border-radius:6px;background:#f3f6f9"><svg style="position:absolute;left:9.700px;top:9.700px" width="14" height="14" viewBox="0 0 14 14"><path d="M2 7h10M8 3l4 4-4 4" fill="none" stroke="#a9adbe" stroke-width="1.350" stroke-linecap="round" stroke-linejoin="round"></path></svg></div>
<div class="dash" style="left:760.1px;width:772.9px;top:659.1px"></div>
<div class="sym" style="left:760.1px;top:674.8px;width:45px;height:45px;background:#f5f8fa"><svg style="position:absolute;left:9.0px;top:9.0px" width="27" height="27" viewBox="0 0 24 24"><rect x="2.500" y="1.500" width="8" height="21" rx="3.500" fill="#50cd89"></rect><path d="M9 12l8-8.500a3.300 3.300 0 0 1 5.300 3.800L19 12l3.300 4.700a3.300 3.300 0 0 1-5.300 3.800z" fill="#8fe3b0"></path></svg></div>
<span class="t b" style="left: 831px; top: 686.4px; font-size: 14.2px; letter-spacing: 0.3px;">Bestseller Theme</span>
<span class="t mut md" style="left: 831px; top: 707.5px; font-size: 12.2px; letter-spacing: 1.31px;">Best Customers</span>
<span class="t mut md" style="left: 1181.5px; top: 697.3px; font-size: 12.2px; letter-spacing: 0.82px;">ReactJS, Ruby</span>
<div class="badge" style="left:1359.3px;top:687.1px;width:81.0px;background:#fff8dd;color:#ffc700"><span class="t" style="left: 8.6px; letter-spacing: 0.5px;">In Progress</span></div>
<div class="abs" style="left:1499.1px;top:680.0px;width:34.200px;height:34.200px;border-radius:6px;background:#f3f6f9"><svg style="position:absolute;left:9.700px;top:9.700px" width="14" height="14" viewBox="0 0 14 14"><path d="M2 7h10M8 3l4 4-4 4" fill="none" stroke="#a9adbe" stroke-width="1.350" stroke-linecap="round" stroke-linejoin="round"></path></svg></div>
<div class="abs" style="left:1562.6px;top:666.6px;width:40px;height:83.7px;background:#fff;border-radius:6px 0 0 6px;box-shadow:0 0 20px rgba(76,87,125,.12)"></div>
<span class="abs b" style="left:1580.3px;top:708.4px;font-size:13px;white-space:nowrap;line-height:1;transform:translate(-50%,-50%) rotate(90deg);color:#474b62;letter-spacing:.8px">Explore</span>
<div class="card" style="left:303.3px;top:780.0px;width:402.0px;height:500px"></div>
<div class="card" style="left:731.0px;top:780.0px;width:832.3px;height:500px"></div>
<span class="t b" style="left: 331.8px; top: 816.2px; font-size: 17.5px; letter-spacing: -0.03px;">Todo</span>
<svg class="abs" style="left:652.0px;top:808.5px;width:13.500px;height:13.500px" viewBox="0 0 15 15"><rect x="0" y="0" width="6" height="6" rx="1.500" fill="#009ef7"></rect><rect x="9" y="0" width="6" height="6" rx="1.500" fill="#009ef7" opacity=".27"></rect><rect x="0" y="9" width="6" height="6" rx="1.500" fill="#009ef7" opacity=".27"></rect><rect x="9" y="9" width="6" height="6" rx="1.500" fill="#009ef7" opacity=".27"></rect></svg>
<div class="abs" style="left:331.8px;top:856.6px;width:3.200px;height:40px;border-radius:2px;background:#50cd89"></div>
<div class="abs" style="left:352.0px;top:865.4px;width:22.400px;height:22.400px;border-radius:5.500px;background:#eff2f5"></div>
<span class="t b" style="left: 390.9px; top: 865.8px; font-size: 14.2px; letter-spacing: 0.17px;">Create FireStone Logo</span>
<span class="t mut md" style="left: 390.9px; top: 887.3px; font-size: 12.2px; letter-spacing: 0.89px;">Due in 2 Days</span>
<div class="badge" style="left:632.6px;top:865.8px;width:43.8px;height:21.800px;border-radius:5px;font-size:11.200px;background:#e8fff3;color:#50cd89"><span class="t" style="left: 9.8px; top: 10.7px; letter-spacing: 0.44px;">New</span></div>
<div class="abs" style="left:331.8px;top:922.6px;width:3.200px;height:40px;border-radius:2px;background:#009ef7"></div>
<div class="abs" style="left:352.0px;top:931.4px;width:22.400px;height:22.400px;border-radius:5.500px;background:#eff2f5"></div>
<span class="t b" style="left: 390.9px; top: 931.8px; font-size: 14.2px; letter-spacing: 0.43px;">Stakeholder Meeting</span>
<span class="t mut md" style="left: 390.9px; top: 953.3px; font-size: 12.2px; letter-spacing: 0.89px;">Due in 3 Days</span>
<div class="badge" style="left:632.6px;top:931.8px;width:43.8px;height:21.800px;border-radius:5px;font-size:11.200px;background:#f1faff;color:#009ef7"><span class="t" style="left: 9.8px; top: 10.7px; letter-spacing: 0.44px;">New</span></div>
<div class="abs" style="left:331.8px;top:988.6px;width:3.200px;height:40px;border-radius:2px;background:#ffc700"></div>
<div class="abs" style="left:352.0px;top:997.4px;width:22.400px;height:22.400px;border-radius:5.500px;background:#eff2f5"></div>
<span class="t b" style="left: 390.9px; top: 997.8px; font-size: 14.2px; letter-spacing: 0.2px;">Scoping &amp; Estimations</span>
<span class="t mut md" style="left: 390.9px; top: 1019.3px; font-size: 12.2px; letter-spacing: 0.89px;">Due in 5 Days</span>
<div class="badge" style="left:632.6px;top:997.8px;width:43.8px;height:21.800px;border-radius:5px;font-size:11.200px;background:#fff8dd;color:#ffc700"><span class="t" style="left: 9.8px; top: 10.7px; letter-spacing: 0.44px;">New</span></div>
<div class="abs" style="left:331.8px;top:1054.6px;width:3.200px;height:40px;border-radius:2px;background:#009ef7"></div>
<div class="abs" style="left:352.0px;top:1063.4px;width:22.400px;height:22.400px;border-radius:5.500px;background:#eff2f5"></div>
<span class="t b" style="left: 390.9px; top: 1063.8px; font-size: 14.2px; letter-spacing: 0.06px;">KPI App Showcase</span>
<span class="t mut md" style="left: 390.9px; top: 1085.3px; font-size: 12.2px; letter-spacing: 0.89px;">Due in 2 Days</span>
<div class="badge" style="left:632.6px;top:1063.8px;width:43.8px;height:21.800px;border-radius:5px;font-size:11.200px;background:#f1faff;color:#009ef7"><span class="t" style="left: 9.8px; top: 10.7px; letter-spacing: 0.44px;">New</span></div>
<div class="abs" style="left:331.8px;top:1120.6px;width:3.200px;height:40px;border-radius:2px;background:#f1416c"></div>
<div class="abs" style="left:352.0px;top:1129.4px;width:22.400px;height:22.400px;border-radius:5.500px;background:#eff2f5"></div>
<span class="t b" style="left: 390.9px; top: 1129.8px; font-size: 14.2px; letter-spacing: 0.32px;">Project Meeting</span>
<span class="t mut md" style="left: 390.9px; top: 1151.3px; font-size: 12.2px; letter-spacing: 0.61px;">Due in 12 Days</span>
<div class="badge" style="left:632.6px;top:1129.8px;width:43.8px;height:21.800px;border-radius:5px;font-size:11.200px;background:#fff5f8;color:#f1416c"><span class="t" style="left: 9.8px; top: 10.7px; letter-spacing: 0.44px;">New</span></div>
<div class="abs" style="left:331.8px;top:1186.6px;width:3.200px;height:40px;border-radius:2px;background:#50cd89"></div>
<div class="abs" style="left:352.0px;top:1195.4px;width:22.400px;height:22.400px;border-radius:5.500px;background:#eff2f5"></div>
<span class="t b" style="left: 390.9px; top: 1195.8px; font-size: 14.2px; letter-spacing: 0.5px;">Customers Update</span>
<span class="t mut md" style="left: 390.9px; top: 1217.3px; font-size: 12.2px; letter-spacing: 0.6px;">Due in 1 week</span>
<div class="badge" style="left:632.6px;top:1195.8px;width:43.8px;height:21.800px;border-radius:5px;font-size:11.200px;background:#e8fff3;color:#50cd89"><span class="t" style="left: 9.8px; top: 10.7px; letter-spacing: 0.44px;">New</span></div>
<span class="t b" style="left: 760.1px; top: 814.8px; font-size: 17.5px; letter-spacing: 0.46px;">Recent Statistics</span>
<span class="t mut md" style="left: 760.1px; top: 836.7px; font-size: 12px; letter-spacing: 1.08px;">More than 400 new members</span>
<svg class="abs" style="left:1509.1px;top:816.4px;width:13.500px;height:13.500px" viewBox="0 0 15 15"><rect x="0" y="0" width="6" height="6" rx="1.500" fill="#009ef7"></rect><rect x="9" y="0" width="6" height="6" rx="1.500" fill="#009ef7" opacity=".27"></rect><rect x="0" y="9" width="6" height="6" rx="1.500" fill="#009ef7" opacity=".27"></rect><rect x="9" y="9" width="6" height="6" rx="1.500" fill="#009ef7" opacity=".27"></rect></svg>
<svg class="abs" style="left:0;top:0;width:1600px;height:1231px" viewBox="0 0 1600 1231" font-family="Liberation Sans, sans-serif"><path d="M806.4 1183.3H1521.0" stroke="#eceef4" stroke-width="1" stroke-dasharray="4 4"></path><text x="796.1" y="1187.3" text-anchor="end" font-size="12.500" fill="#a1a5b7">0</text><path d="M806.4 1113.9H1521.0" stroke="#eceef4" stroke-width="1" stroke-dasharray="4 4"></path><text x="796.1" y="1117.9" text-anchor="end" font-size="12.500" fill="#a1a5b7">30</text><path d="M806.4 1044.6H1521.0" stroke="#eceef4" stroke-width="1" stroke-dasharray="4 4"></path><text x="796.1" y="1048.6" text-anchor="end" font-size="12.500" fill="#a1a5b7">60</text><path d="M806.4 975.2H1521.0" stroke="#eceef4" stroke-width="1" stroke-dasharray="4 4"></path><text x="796.1" y="979.2" text-anchor="end" font-size="12.500" fill="#a1a5b7">90</text><path d="M806.4 905.8H1521.0" stroke="#eceef4" stroke-width="1" stroke-dasharray="4 4"></path><text x="796.1" y="909.8" text-anchor="end" font-size="12.500" fill="#a1a5b7">120</text><path d="M847.5 1183.3V1085.0a3.5 3.5 0 0 1 3.5 -3.5h9.2a3.5 3.5 0 0 1 3.5 3.5V1183.3z" fill="#009ef7"></path><path d="M865.2 1183.3V1011.1a3.5 3.5 0 0 1 3.5 -3.5h9.2a3.5 3.5 0 0 1 3.5 3.5V1183.3z" fill="#e4e6ef"></path><text x="864.4" y="1210.4" text-anchor="middle" font-size="12.500" fill="#a1a5b7">Feb</text><path d="M967.5 1183.3V1059.6a3.5 3.5 0 0 1 3.5 -3.5h9.2a3.5 3.5 0 0 1 3.5 3.5V1183.3z" fill="#009ef7"></path><path d="M985.2 1183.3V990.3a3.5 3.5 0 0 1 3.5 -3.5h9.2a3.5 3.5 0 0 1 3.5 3.5V1183.3z" fill="#e4e6ef"></path><text x="984.4" y="1210.4" text-anchor="middle" font-size="12.500" fill="#a1a5b7">Mar</text><path d="M1087.4 1183.3V1055.0a3.5 3.5 0 0 1 3.5 -3.5h9.2a3.5 3.5 0 0 1 3.5 3.5V1183.3z" fill="#009ef7"></path><path d="M1105.1 1183.3V953.3a3.5 3.5 0 0 1 3.5 -3.5h9.2a3.5 3.5 0 0 1 3.5 3.5V1183.3z" fill="#e4e6ef"></path><text x="1104.3" y="1210.4" text-anchor="middle" font-size="12.500" fill="#a1a5b7">Apr</text><path d="M1207.4 1183.3V1057.3a3.5 3.5 0 0 1 3.5 -3.5h9.2a3.5 3.5 0 0 1 3.5 3.5V1183.3z" fill="#009ef7"></path><path d="M1225.1 1183.3V960.2a3.5 3.5 0 0 1 3.5 -3.5h9.2a3.5 3.5 0 0 1 3.5 3.5V1183.3z" fill="#e4e6ef"></path><text x="1224.3" y="1210.4" text-anchor="middle" font-size="12.500" fill="#a1a5b7">May</text><path d="M1327.3 1183.3V1045.7a3.5 3.5 0 0 1 3.5 -3.5h9.2a3.5 3.5 0 0 1 3.5 3.5V1183.3z" fill="#009ef7"></path><path d="M1345.0 1183.3V985.6a3.5 3.5 0 0 1 3.5 -3.5h9.2a3.5 3.5 0 0 1 3.5 3.5V1183.3z" fill="#e4e6ef"></path><text x="1344.2" y="1210.4" text-anchor="middle" font-size="12.500" fill="#a1a5b7">Jun</text><path d="M1447.3 1183.3V1052.7a3.5 3.5 0 0 1 3.5 -3.5h9.2a3.5 3.5 0 0 1 3.5 3.5V1183.3z" fill="#009ef7"></path><path d="M1465.0 1183.3V944.0a3.5 3.5 0 0 1 3.5 -3.5h9.2a3.5 3.5 0 0 1 3.5 3.5V1183.3z" fill="#e4e6ef"></path><text x="1464.2" y="1210.4" text-anchor="middle" font-size="12.500" fill="#a1a5b7">Jul</text></svg></div></body></html>
